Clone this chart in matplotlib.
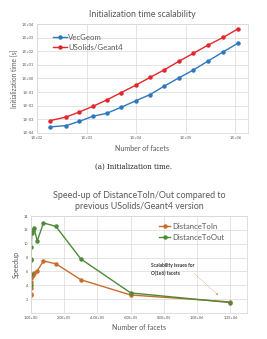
import matplotlib
matplotlib.use('Agg')
import matplotlib.pyplot as plt
import numpy as np

plt.rcParams['font.family'] = ['Lato', 'DejaVu Sans']

# --- top chart data: initialization time vs number of facets
init_facets = [186, 389, 716, 1350, 2570, 5010, 9770, 19100, 37200, 72400, 141000, 282000, 575000, 1120000]
vecgeom_time = [2.8e-4, 3.5e-4, 7.2e-4, 1.7e-3, 2.8e-3, 7.8e-3, 0.023, 0.066, 0.28, 1.1, 4.1, 19, 92, 380]
usolids_time = [8.1e-4, 1.5e-3, 3.5e-3, 9.1e-3, 0.027, 0.093, 0.32, 1.2, 4.4, 18, 69, 283, 1050, 4300]
init_yticks = [1e-4, 1e-3, 1e-2, 1e-1, 1e0, 1e1, 1e2, 1e3, 1e4]
init_ylabels = ['1.E-04', '1.E-03', '1.E-02', '1.E-01', '1.E+00', '1.E+01', '1.E+02', '1.E+03', '1.E+04']
init_xticks = [1e2, 1e3, 1e4, 1e5, 1e6]
init_xlabels = ['1.E+02', '1.E+03', '1.E+04', '1.E+05', '1.E+06']

# --- bottom chart data: speedup vs number of facets
speed_facets = [146, 293, 586, 1172, 2344, 4688, 9375, 18750, 37500, 75000, 150000, 300000, 600000, 1200000]
dist_to_in = [2.6, 2.8, 3.6, 4.5, 5.0, 5.3, 5.5, 5.8, 6.1, 7.5, 7.1, 4.8, 2.6, 1.6]
dist_to_out = [4.1, 5.7, 7.6, 7.8, 9.5, 11.5, 12.0, 12.2, 10.4, 13.0, 12.5, 7.8, 2.9, 1.5]
speed_xticks = [0, 2e5, 4e5, 6e5, 8e5, 1e6, 1.2e6]
speed_xlabels = ['1.0E+00', '2.0E+05', '4.0E+05', '6.0E+05', '8.0E+05', '1.0E+06', '1.2E+06']
speed_yticks = [2, 4, 6, 8, 10, 12, 14]

GRID = '#d9d9d9'
TXT = '#595959'

fig = plt.figure(figsize=(2.67, 3.39), dpi=100)
fig.patch.set_facecolor('white')

def style(ax):
    ax.grid(True, color=GRID, linewidth=0.5)
    ax.set_axisbelow(True)
    for s in ax.spines.values():
        s.set_color(GRID)
        s.set_linewidth(0.6)
    ax.tick_params(length=0, labelsize=2.8, labelcolor=TXT, pad=2)

# top
ax1 = fig.add_axes([0.1386, 0.6077, 0.790, 0.3215])
ax1.plot(init_facets, vecgeom_time, '-o', color='#2f78bd', lw=1.0, ms=2.2, label='VecGeom')
ax1.plot(init_facets, usolids_time, '-o', color='#e3262d', lw=1.0, ms=2.2, label='USolids/Geant4')
ax1.set_xscale('log')
ax1.set_yscale('log')
ax1.set_xlim(1e2, 1.8e6)
ax1.set_ylim(1e-4, 1e4)
ax1.set_xticks(init_xticks)
ax1.set_xticklabels(init_xlabels)
ax1.set_yticks(init_yticks)
ax1.set_yticklabels(init_ylabels)
ax1.minorticks_off()
style(ax1)
ax1.set_title('Initialization time scalability', fontsize=6.4, color=TXT, pad=5)
ax1.set_xlabel('Number of facets', fontsize=5.0, color=TXT, labelpad=4)
ax1.set_ylabel('Initialization time [s]', fontsize=4.8, color=TXT, labelpad=3)
ax1.legend(loc='upper left', bbox_to_anchor=(0.06, 0.94), frameon=False, fontsize=5.6,
           labelcolor=TXT, handlelength=1.8, handletextpad=0.2, borderaxespad=0, labelspacing=0.45)

fig.text(0.5, 1 - 167 / 339, '(a) Initialization time.', ha='center', va='center',
         fontsize=5, family='DejaVu Serif', color='#222222')

# bottom
ax2 = fig.add_axes([0.1161, 0.0767, 0.809, 0.2861])
ax2.plot(speed_facets, dist_to_in, '-o', color='#c96d2c', lw=1.0, ms=2.2, label='DistanceToIn')
ax2.plot(speed_facets, dist_to_out, '-o', color='#4f8a3a', lw=1.0, ms=2.2, label='DistanceToOut')
ax2.set_xlim(0, 1.3e6)
ax2.set_ylim(0, 14)
ax2.set_xticks(speed_xticks)
ax2.set_xticklabels(speed_xlabels)
ax2.set_yticks(speed_yticks)
style(ax2)
ax2.set_title('Speed-up of DistanceToIn/Out compared to\nprevious USolids/Geant4 version',
              fontsize=6.4, color=TXT, pad=5, linespacing=1.3)
ax2.set_xlabel('Number of facets', fontsize=5.0, color=TXT, labelpad=3)
ax2.set_ylabel('Speedup', fontsize=5.0, color=TXT, labelpad=3)
ax2.legend(loc='upper left', bbox_to_anchor=(0.58, 0.96), frameon=False, fontsize=5.6,
           labelcolor=TXT, handlelength=1.4, handletextpad=0.3, borderaxespad=0, labelspacing=0.45)

ax2.text(7.2e5, 6.3, 'Scalability issues for\nO(1e6) facets', fontsize=3.5, fontweight='bold',
         color='#333333', ha='left', va='center', linespacing=1.6)
ax2.annotate('', xy=(1.14e6, 2.3), xytext=(9.7e5, 6.0),
             arrowprops=dict(arrowstyle='-|>', color='#e0905a', lw=0.4, linestyle=':',
                             mutation_scale=3))

fig.savefig('out.png', dpi=100)
